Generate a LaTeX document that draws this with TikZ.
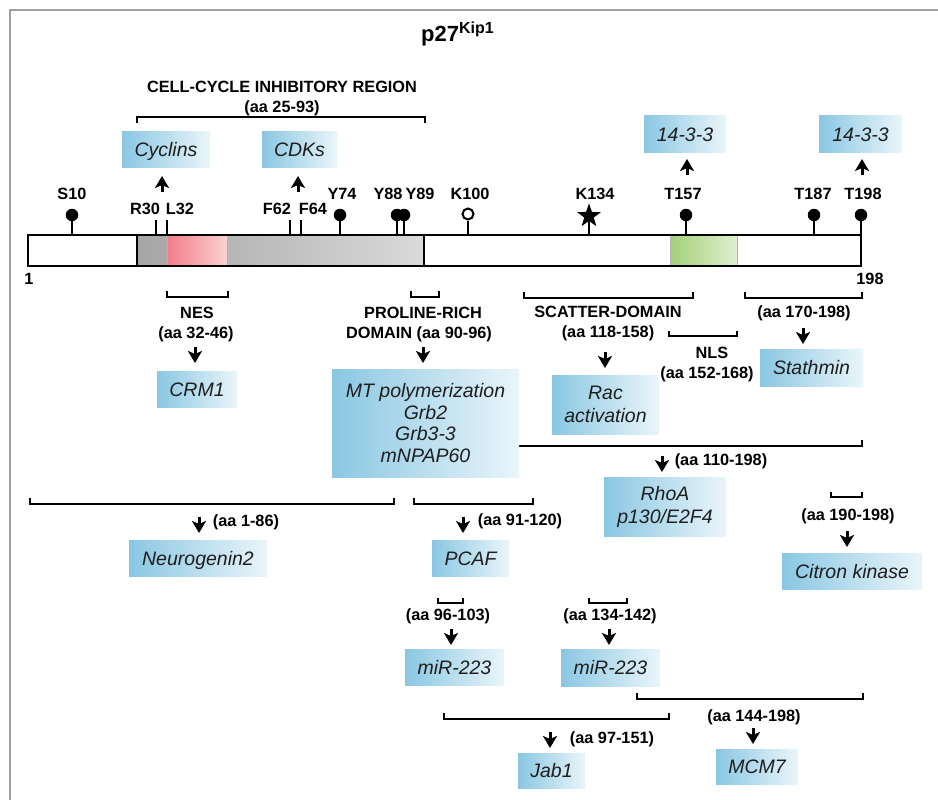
\documentclass[tikz,border=0pt]{standalone}
\usepackage{fontspec}
\setmainfont{Liberation Sans}
\usetikzlibrary{arrows.meta,shapes.geometric}
\definecolor{bL}{RGB}{138,199,226}
\definecolor{bR}{RGB}{234,245,250}
\definecolor{gA}{RGB}{165,165,165}
\definecolor{gB}{RGB}{218,218,218}
\definecolor{rA}{RGB}{240,125,135}
\definecolor{rB}{RGB}{250,210,210}
\definecolor{nA}{RGB}{165,208,120}
\definecolor{nB}{RGB}{224,239,208}
\definecolor{frm}{RGB}{160,160,160}
\definecolor{txt}{RGB}{30,30,30}
\begin{document}
\begin{tikzpicture}[x=1pt,y=-1pt,
  lab/.style={font=\bfseries\fontsize{16.3}{19}\selectfont, inner sep=0pt, text height=11.7pt, text depth=0pt},
  bx/.style={left color=bL, right color=bR, inner sep=0pt, font=\itshape\fontsize{19.5}{23}\selectfont, align=center, text=txt},
  bx1/.style={bx, text height=14pt, text depth=0pt},
  brk/.style={line width=2.2pt},
  arr/.style={line width=3pt, -{Stealth[length=12pt,width=14pt,inset=3pt]}},
  stem/.style={line width=2.2pt},
  ball/.style={circle, fill=black, inner sep=0pt, minimum size=12.5pt}]
\useasboundingbox (0,0) rectangle (938,800);
% frame
\draw[frm, line width=1.5pt] (10,800) -- (10,10) -- (938,10);
% title
\node[anchor=base west, inner sep=0pt, font=\bfseries\fontsize{22}{24}\selectfont] (title) at (421,42) {p27{\fontsize{16}{18}\selectfont\raisebox{8pt}{Kip1}}};
% inhibitory region
\node[lab] (ccr) at (282,87) {CELL-CYCLE INHIBITORY REGION};
\node[lab] (ccraa) at (282,107) {(aa 25-93)};
\draw[brk] (137,123) -- (137,117) -- (425,117) -- (425,123);
% top boxes
\node[bx1, minimum width=88pt, minimum height=36pt] (cyc) at (166,149) {Cyclins};
\node[bx1, minimum width=75pt, minimum height=36pt] (cdk) at (299.5,149) {CDKs};
\node[bx1, minimum width=82pt, minimum height=36pt] (f1) at (685,134) {14-3-3};
\node[bx1, minimum width=83pt, minimum height=36pt] (f2) at (860.5,134) {14-3-3};
% up arrows
\coordinate (u1a) at (162,192); \coordinate (u1b) at (162,176);
\coordinate (u2a) at (298,192); \coordinate (u2b) at (298,176);
\coordinate (u3a) at (687,175); \coordinate (u3b) at (687,159);
\coordinate (u4a) at (862,175); \coordinate (u4b) at (862,159);
\draw[arr] (u1a) -- (u1b);
\draw[arr] (u2a) -- (u2b);
\draw[arr] (u3a) -- (u3b);
\draw[arr] (u4a) -- (u4b);
% protein bar
\fill[left color=gA, right color=gB] (137,235) rectangle (424,266);
\fill[left color=rA, right color=rB] (167,235) rectangle (227,266);
\draw[gray!60, line width=0.8pt] (167,236) -- (167,265) (227,236) -- (227,265);
\fill[left color=nA, right color=nB] (670,235) rectangle (737,266);
\draw[gray!60, line width=0.8pt] (670,236) -- (670,265) (737,236) -- (737,265);
\node[draw, line width=2.6pt, minimum width=833pt, minimum height=31pt, inner sep=0pt] (bar) at (444.5,250.5) {};
\draw[line width=2.2pt] (137,235) -- (137,266) (424,235) -- (424,266);
% site labels
\node[lab] (lS10) at (72,194) {S10};
\node[lab] (lR30) at (145,209) {R30};
\node[lab] (lL32) at (180,209) {L32};
\node[lab] (lF62) at (277,209) {F62};
\node[lab] (lF64) at (313,209) {F64};
\node[lab] (lY74) at (342,194) {Y74};
\node[lab] (lY88) at (388,194) {Y88};
\node[lab] (lY89) at (420,194) {Y89};
\node[lab] (lK100) at (470,194) {K100};
\node[lab] (lK134) at (595,194) {K134};
\node[lab] (lT157) at (683,194) {T157};
\node[lab] (lT187) at (813,194) {T187};
\node[lab] (lT198) at (863,194) {T198};
\node[lab] (one) at (29,279) {1};
\node[lab] (end) at (870,279) {198};
% ticks
\coordinate (tR30) at (156,220); \coordinate (tL32) at (167,220);
\coordinate (tF62) at (290,220); \coordinate (tF64) at (301,220);
\foreach \t in {tR30,tL32,tF62,tF64} \draw[stem] (\t) -- (\t |- bar.north);
% lollipops
\node[ball] (pS10) at (72,215) {};
\node[ball] (pY74) at (340,215) {};
\node[ball] (pY88) at (397,215) {};
\node[ball] (pY89) at (404,215) {};
\node[ball] (pT157) at (686,215) {};
\node[ball] (pT187) at (814,215) {};
\node[ball] (pT198) at (861,215) {};
\foreach \p in {pS10,pY74,pY88,pY89,pT157,pT187,pT198} \draw[stem] (\p.center) -- (\p |- bar.north);
\node[circle, draw, line width=2pt, fill=white, minimum size=11pt, inner sep=0pt] (pK100) at (468,214) {};
\draw[stem] (pK100.south) -- (pK100 |- bar.north);
\node[star, star points=5, star point ratio=2.5, fill=black, inner sep=0pt, minimum size=25pt] (pK134) at (589,216) {};
\draw[stem] (pK134.center) -- (pK134 |- bar.north);
% brackets under bar
\draw[brk] (167,291) -- (167,297) -- (228,297) -- (228,291);
\draw[brk] (411,291) -- (411,297) -- (439,297) -- (439,291);
\draw[brk] (524,292) -- (524,298) -- (693,298) -- (693,292);
\draw[brk] (745,292) -- (745,298) -- (862,298) -- (862,292);
\draw[brk] (669,331) -- (669,336) -- (737,336) -- (737,331);
\draw[brk] (483,440) -- (483,446) -- (862,446) -- (862,440);
\draw[brk] (30,498) -- (30,504) -- (394,504) -- (394,498);
\draw[brk] (414,498) -- (414,504) -- (533,504) -- (533,498);
\draw[brk] (831,492) -- (831,497) -- (862,497) -- (862,492);
\draw[brk] (438,598) -- (438,603) -- (463,603) -- (463,598);
\draw[brk] (589,598) -- (589,603) -- (627,603) -- (627,598);
\draw[brk] (444,713) -- (444,719) -- (669,719) -- (669,713);
\draw[brk] (637,693) -- (637,699) -- (863,699) -- (863,693);
% domain labels
\node[lab] (nes) at (197,313) {NES};
\node[lab] (nesaa) at (196,333) {(aa 32-46)};
\node[lab] (pro) at (423,313) {PROLINE-RICH};
\node[lab] (proaa) at (419,333) {DOMAIN (aa 90-96)};
\node[lab] (sca) at (608,312) {SCATTER-DOMAIN};
\node[lab] (scaaa) at (608,332) {(aa 118-158)};
\node[lab] (nls) at (712,353) {NLS};
\node[lab] (nlsaa) at (707,373) {(aa 152-168)};
\node[lab] (a170) at (804,312) {(aa 170-198)};
\node[lab] (a110) at (721,460) {(aa 110-198)};
\node[lab] (a1) at (246,521) {(aa 1-86)};
\node[lab] (a91) at (520,520) {(aa 91-120)};
\node[lab] (a190) at (848,515) {(aa 190-198)};
\node[lab] (a96) at (448,615) {(aa 96-103)};
\node[lab] (a134) at (610,615) {(aa 134-142)};
\node[lab] (a97) at (612,738) {(aa 97-151)};
\node[lab] (a144) at (754,716) {(aa 144-198)};
% boxes
\node[bx1, minimum width=80pt, minimum height=36pt] (crm) at (197,389) {CRM1};
\node[bx, minimum width=187pt, minimum height=108pt, font=\itshape\fontsize{19.5}{21.7}\selectfont] (mt) at (425.5,423) {MT polymerization\\Grb2\\Grb3-3\\mNPAP60};
\node[bx, minimum width=107pt, minimum height=59pt] (rac) at (605.5,404.5) {Rac\\activation};
\node[bx1, minimum width=103pt, minimum height=37pt] (sta) at (811.5,367.5) {Stathmin};
\node[bx, minimum width=122pt, minimum height=59pt] (rho) at (665,506.5) {RhoA\\p130/E2F4};
\node[bx1, minimum width=138pt, minimum height=36pt] (neu) at (198,558) {Neurogenin2};
\node[bx1, minimum width=77pt, minimum height=36pt] (pcaf) at (470.5,558) {PCAF};
\node[bx1, minimum width=140pt, minimum height=36pt] (cit) at (852,571) {Citron kinase};
\node[bx1, minimum width=99pt, minimum height=36pt] (mir1) at (454.5,667) {miR-223};
\node[bx1, minimum width=99pt, minimum height=37pt] (mir2) at (610.5,667.5) {miR-223};
\node[bx1, minimum width=67pt, minimum height=35pt] (jab) at (551.5,770.5) {Jab1};
\node[bx1, minimum width=82pt, minimum height=35pt] (mcm) at (757,766.5) {MCM7};
% down arrows
\coordinate (d1a) at (195,347); \coordinate (d1b) at (195,363);
\coordinate (d2a) at (423,347); \coordinate (d2b) at (423,363);
\coordinate (d3a) at (605,352); \coordinate (d3b) at (605,368);
\coordinate (d4a) at (803,328); \coordinate (d4b) at (803,344);
\coordinate (d5a) at (662,456); \coordinate (d5b) at (662,472);
\coordinate (d6a) at (199,517); \coordinate (d6b) at (199,533);
\coordinate (d7a) at (463,517); \coordinate (d7b) at (463,533);
\coordinate (d8a) at (847,531); \coordinate (d8b) at (847,547);
\coordinate (d9a) at (451,629); \coordinate (d9b) at (451,645);
\coordinate (d10a) at (609,629); \coordinate (d10b) at (609,645);
\coordinate (d11a) at (550,732); \coordinate (d11b) at (550,748);
\coordinate (d12a) at (753,728); \coordinate (d12b) at (753,744);
\foreach \i in {1,...,12} \draw[arr] (d\i a) -- (d\i b);
\end{tikzpicture}
\end{document}
